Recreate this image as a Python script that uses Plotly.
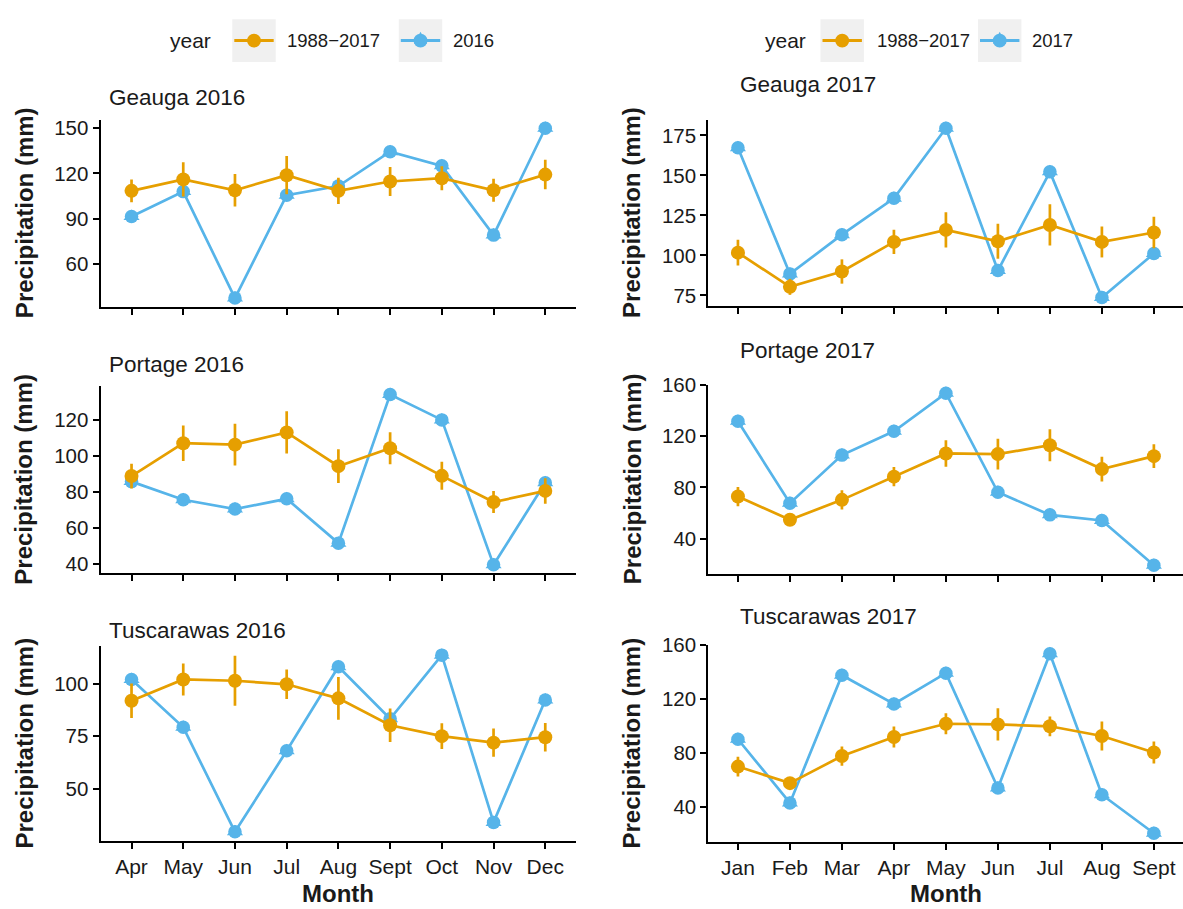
import plotly.graph_objects as go

W, H = 1183, 909
ORANGE = "#E69F00"
BLUE = "#56B4E9"
INK = "#1a1a1a"
FONT = "Liberation Sans, Arial, Helvetica, sans-serif"

# ---------------- data ----------------
months_2016 = ["Apr", "May", "Jun", "Jul", "Aug", "Sept", "Oct", "Nov", "Dec"]
months_2017 = ["Jan", "Feb", "Mar", "Apr", "May", "Jun", "Jul", "Aug", "Sept"]

geauga_2016_obs = [91.4, 107.9, 37.2, 105.5, 111.6, 134.4, 125.0, 79.0, 150.0]
geauga_2016_norm = [108.4, 116.0, 108.8, 118.8, 108.4, 114.6, 116.8, 108.8, 119.2]
geauga_2016_err = [7.6, 11.4, 10.8, 12.7, 8.7, 9.7, 8.0, 7.6, 9.8]

portage_2016_obs = [85.8, 75.7, 70.5, 76.2, 51.5, 134.3, 120.2, 39.4, 85.2]
portage_2016_norm = [88.9, 107.2, 106.4, 113.2, 94.4, 104.4, 89.0, 74.4, 80.6]
portage_2016_err = [6.9, 9.9, 11.6, 11.8, 9.4, 8.9, 7.8, 6.1, 7.1]

tusc_2016_obs = [102.0, 79.2, 29.4, 68.0, 108.1, 83.3, 113.6, 33.9, 92.2]
tusc_2016_norm = [91.9, 102.0, 101.4, 99.7, 93.0, 80.2, 75.0, 71.9, 74.5]
tusc_2016_err = [8.2, 7.6, 11.9, 7.0, 10.2, 8.0, 6.1, 6.7, 6.8]

geauga_2017_obs = [167.3, 88.4, 112.9, 135.7, 179.5, 90.5, 152.2, 73.6, 101.1]
geauga_2017_norm = [101.7, 80.3, 89.9, 108.4, 115.9, 108.8, 119.0, 108.4, 114.3]
geauga_2017_err = [8.0, 5.0, 7.6, 7.6, 11.0, 10.9, 12.9, 9.7, 9.9]

portage_2017_obs = [131.6, 67.7, 105.2, 123.8, 153.5, 76.2, 58.6, 54.2, 19.3]
portage_2017_norm = [72.9, 54.8, 70.3, 88.4, 106.5, 106.0, 112.9, 94.3, 104.4]
portage_2017_err = [7.5, 4.0, 7.5, 7.5, 10.3, 12.0, 12.5, 9.7, 9.2]

tusc_2017_obs = [90.2, 42.9, 137.7, 116.4, 139.2, 54.0, 153.6, 49.0, 20.4]
tusc_2017_norm = [69.9, 57.6, 77.7, 91.9, 101.7, 101.2, 99.8, 92.6, 80.4]
tusc_2017_err = [7.3, 4.4, 7.1, 7.8, 7.8, 12.0, 7.3, 10.7, 8.2]

ticks_geauga_2016 = [60, 90, 120, 150]
ticks_portage_2016 = [40, 60, 80, 100, 120]
ticks_tusc_2016 = [50, 75, 100]
ticks_geauga_2017 = [75, 100, 125, 150, 175]
ticks_portage_2017 = [40, 80, 120, 160]
ticks_tusc_2017 = [40, 80, 120, 160]

panels = [
    ("Geauga 2016", months_2016, geauga_2016_obs, geauga_2016_norm, geauga_2016_err, ticks_geauga_2016, 0, 0),
    ("Portage 2016", months_2016, portage_2016_obs, portage_2016_norm, portage_2016_err, ticks_portage_2016, 0, 1),
    ("Tuscarawas 2016", months_2016, tusc_2016_obs, tusc_2016_norm, tusc_2016_err, ticks_tusc_2016, 0, 2),
    ("Geauga 2017", months_2017, geauga_2017_obs, geauga_2017_norm, geauga_2017_err, ticks_geauga_2017, 1, 0),
    ("Portage 2017", months_2017, portage_2017_obs, portage_2017_norm, portage_2017_err, ticks_portage_2017, 1, 1),
    ("Tuscarawas 2017", months_2017, tusc_2017_obs, tusc_2017_norm, tusc_2017_err, ticks_tusc_2017, 1, 2),
]

# ---------------- layout geometry (pixels) ----------------
col_x = [(100.5, 576.3), (708.3, 1183.0)]
col_xrange = [(-0.6, 8.6), (-0.57, 8.56)]
row_y = [
    [(109.3, 298.8), (379.5, 569.5), (643.5, 840.7)],
    [(109.3, 298.3), (378.0, 570.0), (642.0, 842.3)],
]
title_pos = [
    [(107, 87), (107, 358), (107, 627)],
    [(738, 74), (738, 343), (738, 613)],
]
ylab_x = [24, 632]


def px(x):
    return x / W


def py(y):
    return 1 - y / H


fig = go.Figure()
annotations = []
shapes = []

for i, (title, months, obs, norm, err, ticks, col, row) in enumerate(panels):
    n = i + 1
    xa = "x" if n == 1 else f"x{n}"
    ya = "y" if n == 1 else f"y{n}"

    # blue: observed year
    fig.add_trace(go.Scatter(
        x=months, y=obs, xaxis=xa, yaxis=ya, mode="lines+markers",
        line=dict(color=BLUE, width=2.7),
        marker=dict(symbol="triangle-up", size=14, color=BLUE),
        showlegend=False, hoverinfo="skip"))
    fig.add_trace(go.Scatter(
        x=months, y=obs, xaxis=xa, yaxis=ya, mode="markers",
        marker=dict(symbol="circle", size=13.5, color=BLUE),
        showlegend=False, hoverinfo="skip"))
    # orange: 1988-2017 normal with error bars
    fig.add_trace(go.Scatter(
        x=months, y=norm, xaxis=xa, yaxis=ya, mode="lines+markers",
        line=dict(color=ORANGE, width=2.7),
        marker=dict(symbol="circle", size=14, color=ORANGE),
        error_y=dict(type="data", array=err, visible=True, color=ORANGE,
                     thickness=2.7, width=0),
        showlegend=False, hoverinfo="skip"))

    lo = min(min(obs), min(m - e for m, e in zip(norm, err)))
    hi = max(max(obs), max(m + e for m, e in zip(norm, err)))
    span = hi - lo
    yr = [lo - 0.05 * span, hi + 0.05 * span]

    x0, x1 = col_x[col]
    y0, y1 = row_y[col][row]
    axis_common = dict(showline=True, linecolor="black", linewidth=2,
                       ticks="outside", ticklen=6, tickwidth=2, tickcolor="black",
                       showgrid=False, zeroline=False)
    fig.layout[f"xaxis{'' if n == 1 else n}"] = dict(
        domain=[px(x0), min(px(x1), 1.0)], anchor=ya, type="category",
        categoryorder="array", categoryarray=months, range=list(col_xrange[col]),
        showticklabels=(row == 2), tickfont=dict(size=21, color=INK, family=FONT),
        **axis_common)
    fig.layout[f"yaxis{'' if n == 1 else n}"] = dict(
        domain=[py(y1), py(y0)], anchor=xa, range=yr, tickvals=ticks,
        tickfont=dict(size=20.5, color=INK, family=FONT), **axis_common)

    tx, ty = title_pos[col][row]
    annotations.append(dict(text=title, x=px(tx), y=py(ty), xref="paper", yref="paper",
                            xanchor="left", yanchor="middle", showarrow=False,
                            font=dict(size=22.5, color=INK, family=FONT)))
    annotations.append(dict(text="<b>Precipitation (mm)</b>", x=px(ylab_x[col]),
                            y=py((y0 + y1) / 2), xref="paper", yref="paper",
                            xanchor="center", yanchor="middle", textangle=-90,
                            showarrow=False, font=dict(size=24, color=INK, family=FONT)))

# x-axis titles
for cx in [338, 946]:
    annotations.append(dict(text="<b>Month</b>", x=px(cx), y=py(894), xref="paper", yref="paper",
                            xanchor="center", yanchor="middle", showarrow=False,
                            font=dict(size=24, color=INK, family=FONT)))

# ---------------- legends (drawn as layout shapes/annotations) ----------------
legends = [
    dict(title_x=168, keys=[(232.3, ORANGE, "1988\u22122017", 285), (398.8, BLUE, "2016", 451)]),
    dict(title_x=763, keys=[(820.5, ORANGE, "1988\u22122017", 874.5), (978.0, BLUE, "2017", 1029.5)]),
]
LEG_CY = 29.0
KEY = 43.4
for lg in legends:
    annotations.append(dict(text="year", x=px(lg["title_x"]), y=py(LEG_CY), xref="paper", yref="paper",
                            xanchor="left", yanchor="middle", showarrow=False,
                            font=dict(size=21, color=INK, family=FONT)))
    for kx, color, label, lx in lg["keys"]:
        shapes.append(dict(type="rect", xref="paper", yref="paper",
                           x0=px(kx), x1=px(kx + KEY), y0=py(LEG_CY + KEY / 2), y1=py(LEG_CY - KEY / 2),
                           fillcolor="#F0F0F0", line=dict(width=0), layer="above"))
        shapes.append(dict(type="line", xref="paper", yref="paper",
                           x0=px(kx + 2), x1=px(kx + KEY - 2), y0=py(LEG_CY), y1=py(LEG_CY),
                           line=dict(color=color, width=3), layer="above"))
        cx = kx + KEY / 2
        r = 7
        if color == BLUE:
            shapes.append(dict(type="path", xref="paper", yref="paper",
                               path=f"M {px(cx - 6.5)},{py(LEG_CY + 3.5)} L {px(cx + 6.5)},{py(LEG_CY + 3.5)} "
                                    f"L {px(cx)},{py(LEG_CY - 9)} Z",
                               fillcolor=color, line=dict(width=0), layer="above"))
        shapes.append(dict(type="circle", xref="paper", yref="paper",
                           x0=px(cx - r), x1=px(cx + r), y0=py(LEG_CY + r), y1=py(LEG_CY - r),
                           fillcolor=color, line=dict(width=0), layer="above"))
        annotations.append(dict(text=label, x=px(lx), y=py(LEG_CY), xref="paper", yref="paper",
                                xanchor="left", yanchor="middle", showarrow=False,
                                font=dict(size=18.5, color=INK, family=FONT)))

fig.update_layout(
    width=W, height=H, autosize=False,
    margin=dict(l=0, r=0, t=0, b=0, pad=0),
    paper_bgcolor="white", plot_bgcolor="white",
    font=dict(family=FONT, color=INK),
    showlegend=False,
    annotations=annotations,
    shapes=shapes,
)

fig.write_html("out.html",
               config={"displayModeBar": False},
               post_script="document.body.style.margin='0';document.body.style.padding='0';"
                           "document.body.style.overflow='hidden';")
